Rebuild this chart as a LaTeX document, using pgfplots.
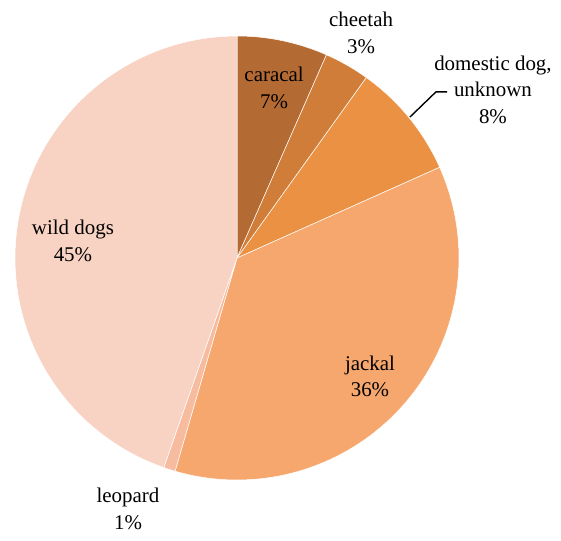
\documentclass[border=0pt]{standalone}
\usepackage{pgfplots}
\pgfplotsset{compat=1.18}
\usepackage{fontspec}
\setmainfont{Liberation Serif}
\newfontfamily\lblfont{Liberation Serif}
\definecolor{cCaracal}{HTML}{B46A33}
\definecolor{cCheetah}{HTML}{D07D3A}
\definecolor{cDog}{HTML}{EB9143}
\definecolor{cJackal}{HTML}{F6A76E}
\definecolor{cLeopard}{HTML}{F7BC9F}
\definecolor{cWild}{HTML}{F8D2C2}
\tikzset{lbl/.style={font=\lblfont\fontsize{21}{26.5}\selectfont, align=center, text=black, inner sep=0pt}}
% slice: cumulative start (%), value (%), colour
\newcommand\slice[3]{%
  \pgfmathsetmacro\sa{90-3.6*(#1)}%
  \pgfmathsetmacro\sb{90-3.6*((#1)+(#2))}%
  \edef\tmp{\noexpand\addplot[fill=#3, draw=white, line width=0.5pt, domain=\sb:\sa, samples=90, line join=round]
    ({cos(x)},{sin(x)}) -- (axis cs:0,0) -- cycle;}%
  \tmp
}
\begin{document}
\begin{tikzpicture}
\begin{axis}[
  x=222bp, y=222bp,
  xmin=-1.0676, xmax=1.4595,
  ymin=-1.2703, ymax=1.1622,
  hide axis, clip=false,
]
\addplot[draw=none] coordinates {(-1.0676,-1.2703) (1.4595,1.1622)};
% values (percent): caracal 6.6, cheetah 3.3, domestic dog 8.4, jackal 36.2, leopard 0.85, wild dogs 44.65
\slice{0}{6.6}{cCaracal}
\slice{6.6}{3.3}{cCheetah}
\slice{9.9}{8.4}{cDog}
\slice{18.3}{36.2}{cJackal}
\slice{54.5}{0.85}{cLeopard}
\slice{55.35}{44.65}{cWild}
\addplot[black, line width=1.4pt] coordinates {(0.779,0.635) (0.896,0.748) (0.946,0.748)};
\node[lbl] at (axis cs:0.167,0.766) {caracal\\7\%};
\node[lbl] at (axis cs:0.559,1.014) {cheetah\\3\%};
\node[lbl] at (axis cs:1.153,0.758) {domestic dog,\\unknown\\8\%};
\node[lbl] at (axis cs:0.599,-0.532) {jackal\\36\%};
\node[lbl] at (axis cs:-0.491,-1.131) {leopard\\1\%};
\node[lbl] at (axis cs:-0.739,0.077) {wild dogs\\45\%};
\end{axis}
\end{tikzpicture}
\end{document}
